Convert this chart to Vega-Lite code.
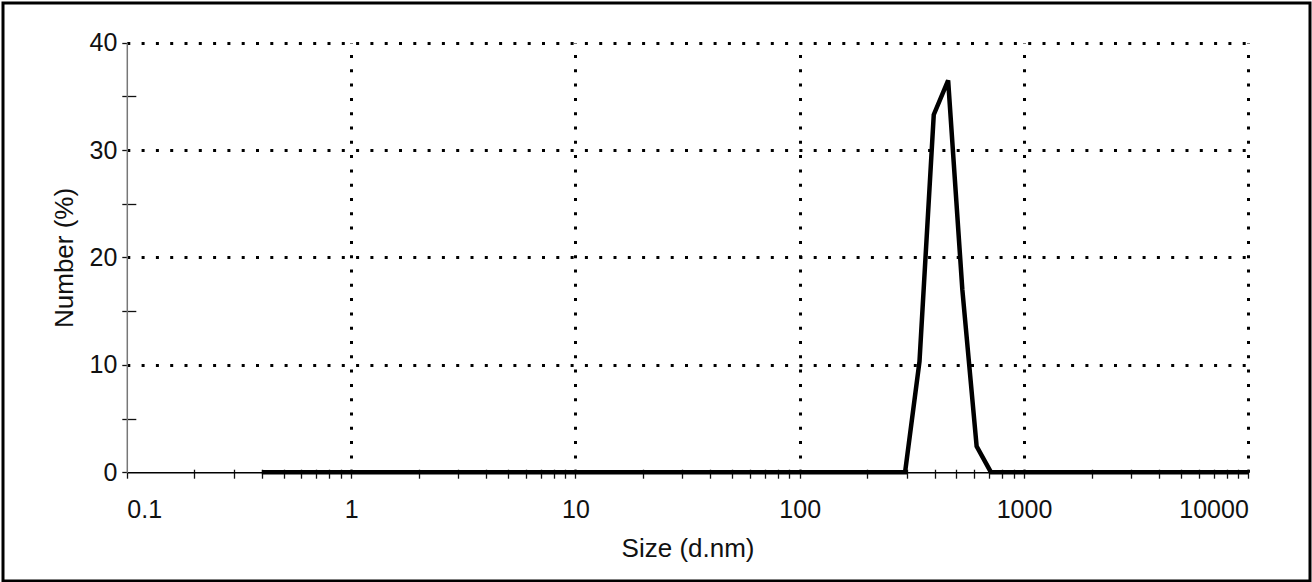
{
  "$schema": "https://vega.github.io/schema/vega-lite/v6.json",
  "description": "DLS size distribution by number",
  "autosize": {"type": "none"},
  "padding": {"left": 3, "top": 3, "right": 2, "bottom": 1},
  "width": 1307,
  "height": 578,
  "config": {
    "view": {"stroke": "black", "strokeWidth": 3},
    "axis": {
      "labelFont": "Liberation Sans",
      "titleFont": "Liberation Sans",
      "labelColor": "#111",
      "titleColor": "#111",
      "labelFontSize": 25,
      "titleFontSize": 26,
      "titleFontWeight": "normal",
      "tickColor": "#111",
      "tickWidth": 1.3
    }
  },
  "data": {
    "values": [
      {"size": 0.4, "number": 0},
      {"size": 295, "number": 0},
      {"size": 342, "number": 10.3},
      {"size": 396, "number": 33.3},
      {"size": 459, "number": 36.5},
      {"size": 531, "number": 17},
      {"size": 615, "number": 2.4},
      {"size": 712, "number": 0},
      {"size": 10000, "number": 0}
    ]
  },
  "resolve": {"axis": {"x": "independent", "y": "independent"}},
  "layer": [
    {
      "mark": {"type": "line", "opacity": 0},
      "encoding": {
        "x": {
          "field": "size", "type": "quantitative",
          "scale": {"type": "log", "domain": [0.1, 10000], "range": [123.8, 1245.3], "nice": false},
          "axis": {
            "orient": "bottom", "offset": -108.8, "title": null,
            "values": [0.2, 0.3, 0.4, 0.5, 0.6, 0.7, 0.8, 0.9, 2, 3, 4, 5, 6, 7, 8, 9, 20, 30, 40, 50, 60, 70, 80, 90, 200, 300, 400, 500, 600, 700, 800, 900, 2000, 3000, 4000, 5000, 6000, 7000, 8000, 9000],
            "labels": false, "domain": false, "grid": false, "tickSize": 6
          }
        },
        "y": {
          "field": "number", "type": "quantitative",
          "scale": {"domain": [0, 40], "range": [469.2, 39.7], "nice": false, "zero": false},
          "axis": {
            "orient": "left", "offset": -123.8, "title": null,
            "values": [5, 15, 25, 35],
            "labels": false, "domain": false, "grid": false, "tickSize": 5
          }
        }
      }
    },
    {
      "mark": {"type": "line", "opacity": 0},
      "encoding": {
        "x": {
          "field": "size", "type": "quantitative",
          "axis": {
            "orient": "top", "offset": -469.2, "title": null,
            "values": [0.2, 0.3, 0.4, 0.5, 0.6, 0.7, 0.8, 0.9, 1, 2, 3, 4, 5, 6, 7, 8, 9, 10, 20, 30, 40, 50, 60, 70, 80, 90, 100, 200, 300, 400, 500, 600, 700, 800, 900, 1000, 2000, 3000, 4000, 5000, 6000, 7000, 8000, 9000, 10000],
            "labels": false, "domain": false, "tickSize": 3,
            "grid": true, "gridColor": "black", "gridWidth": 3, "gridDash": [3, 11.3],
            "gridOpacity": {"condition": {"test": "abs(log(datum.value) / LN10 - round(log(datum.value) / LN10)) > 0.01", "value": 0}, "value": 1}
          }
        },
        "y": {
          "field": "number", "type": "quantitative",
          "axis": {
            "orient": "right", "offset": -1183.2, "title": null,
            "values": [5, 15, 25, 35],
            "labels": false, "domain": false, "grid": false, "tickSize": 9
          }
        }
      }
    },
    {
      "mark": {"type": "line", "color": "black", "strokeWidth": 4.5},
      "encoding": {
        "x": {
          "field": "size", "type": "quantitative",
          "axis": {
            "orient": "bottom", "offset": -108.8, "title": "Size (d.nm)",
            "values": [0.1, 1, 10, 100, 1000, 10000], "format": "~g",
            "domainColor": "black", "domainWidth": 1.5,
            "tickSize": 6, "labelPadding": 19, "titlePadding": 13,
            "grid": false
          }
        },
        "y": {
          "field": "number", "type": "quantitative",
          "axis": {
            "orient": "left", "offset": -123.8, "title": "Number (%)",
            "values": [0, 10, 20, 30, 40],
            "domainColor": "#777", "domainWidth": 1.5,
            "tickSize": 5, "labelPadding": 5, "titlePadding": 11,
            "grid": true, "gridColor": "black", "gridWidth": 3, "gridDash": [3, 11.3],
            "gridOpacity": {"condition": {"test": "datum.value < 1", "value": 0}, "value": 1}
          }
        }
      }
    }
  ]
}
